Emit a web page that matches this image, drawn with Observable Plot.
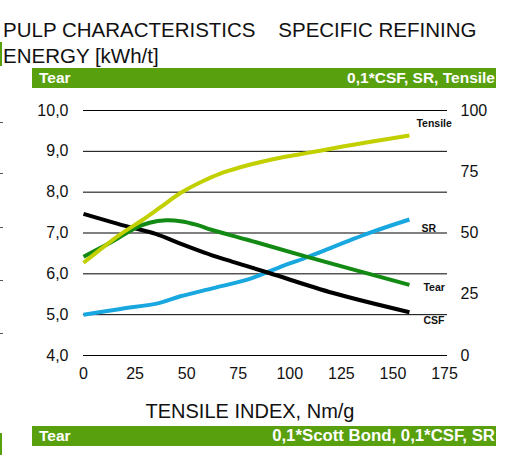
<!DOCTYPE html>
<html>
<head>
<meta charset="utf-8">
<script src="https://cdn.jsdelivr.net/npm/d3@7"></script>
<script src="https://cdn.jsdelivr.net/npm/@observablehq/plot@0.6"></script>
<style>
  html, body { margin: 0; padding: 0; background: #fff; }
  #wrap { position: relative; width: 515px; height: 455px; overflow: hidden; font-family: "Liberation Sans", Arial, sans-serif; }
  .title { position: absolute; left: 3px; top: 17px; font-size: 20.5px; line-height: 26px; color: #111; white-space: nowrap; }
  .bar { position: absolute; left: 32px; width: 464px; height: 20px; background: #58a00e; color: #fff; font-weight: bold; font-size: 15.5px; line-height: 20px; }
  .bar .l { position: absolute; left: 7px; }
  .bar .r { position: absolute; right: 1px; }
  .bar .r.wide { font-size: 16.8px; }
  .xtitle { position: absolute; left: 0; width: 500px; text-align: center; top: 400px; font-size: 20px; color: #111; }
  .edge { position: absolute; left: 0; width: 2px; background: #58a00e; }
  .dash { position: absolute; left: 0; width: 3px; height: 1px; background: #555; }
  #chart { position: absolute; left: 0; top: 95px; }
</style>
</head>
<body>
<div id="wrap">
  <div class="edge" style="top:42px;height:24px"></div>
  <div class="edge" style="top:433px;height:22px"></div>
  <div class="dash" style="top:122px"></div>
  <div class="dash" style="top:173px"></div>
  <div class="dash" style="top:227px"></div>
  <div class="dash" style="top:280px"></div>
  <div class="dash" style="top:333px"></div>
  <div class="title">PULP CHARACTERISTICS&nbsp;&nbsp;&nbsp; SPECIFIC REFINING<br>ENERGY [kWh/t]</div>
  <div class="bar" style="top:68px"><span class="l">Tear</span><span class="r">0,1*CSF, SR, Tensile</span></div>
  <div id="chart"></div>
  <div class="xtitle">TENSILE INDEX, Nm/g</div>
  <div class="bar" style="top:426px"><span class="l">Tear</span><span class="r wide">0,1*Scott Bond, 0,1*CSF, SR</span></div>
</div>
<script>
// Tick values
const xTicks = [0, 25, 50, 75, 100, 125, 150, 175];
const leftTicks = [4, 5, 6, 7, 8, 9, 10];
const rightTicks = [0, 25, 50, 75, 100];

// Series (x = tensile index, y = left-axis value)
const tensileX = [0, 18, 28, 37, 47, 57, 66, 76, 86, 96, 105, 114, 125, 140, 158];
const tensileY = [6.27, 6.97, 7.30, 7.62, 7.98, 8.25, 8.45, 8.61, 8.74, 8.85, 8.93, 9.01, 9.11, 9.24, 9.39];

const tearX = [0, 14, 25, 32, 40, 47, 55, 62, 79, 108, 158];
const tearY = [6.42, 6.79, 7.12, 7.25, 7.31, 7.29, 7.20, 7.08, 6.84, 6.42, 5.73];

const csfX = [0, 22, 35, 46, 62, 72, 90, 121, 158];
const csfY = [7.47, 7.15, 6.98, 6.76, 6.46, 6.30, 6.02, 5.53, 5.06];

const srX = [0, 18, 37, 47, 63, 79, 87, 95, 108, 138, 158];
const srY = [5.00, 5.14, 5.29, 5.45, 5.65, 5.85, 6.00, 6.16, 6.40, 6.99, 7.33];

const toRows = (xs, ys, name) => xs.map((x, i) => ({x, y: ys[i], name}));
const tensile = toRows(tensileX, tensileY, "Tensile");
const tear = toRows(tearX, tearY, "Tear");
const csf = toRows(csfX, csfY, "CSF");
const sr = toRows(srX, srY, "SR");

const fmtLeft = d => d.toFixed(1).replace(".", ",");
const leftToRight = d => Math.round((d - 4) / 6 * 100);
const rightToLeft = v => 4 + v / 100 * 6;

const lineOpts = {x: "x", y: "y", strokeWidth: 4, curve: "catmull-rom", strokeLinecap: "butt"};
const last = arr => [arr[arr.length - 1]];
const lab = {x: "x", y: "y", text: "name", textAnchor: "start", fontWeight: "bold", fontSize: 10.5, fill: "#111"};

const chart = Plot.plot({
  width: 515,
  height: 300,
  marginLeft: 83,
  marginRight: 71,
  marginTop: 15,
  marginBottom: 40,
  style: {fontFamily: "Liberation Sans, Arial, sans-serif", fontSize: "16px", background: "transparent", color: "#111"},
  x: {domain: [0, 175]},
  y: {domain: [4, 10]},
  marks: [
    Plot.gridY(leftTicks, {stroke: "#000", strokeOpacity: 1, strokeWidth: 1, insetRight: -3}),
    Plot.axisY(leftTicks, {anchor: "left", tickSize: 0, tickPadding: 15, tickFormat: fmtLeft, label: null, fontSize: 16}),
    Plot.axisY(rightTicks.map(rightToLeft), {anchor: "right", tickSize: 0, tickPadding: 16, tickFormat: leftToRight, label: null, fontSize: 16}),
    Plot.axisX(xTicks, {anchor: "bottom", tickSize: 0, tickPadding: 12, label: null, fontSize: 16}),
    Plot.line(sr, {...lineOpts, stroke: "#19a7e0"}),
    Plot.line(csf, {...lineOpts, stroke: "#000000"}),
    Plot.line(tear, {...lineOpts, stroke: "#138a13"}),
    Plot.line(tensile, {...lineOpts, stroke: "#c3d000"}),
    Plot.text(last(tensile), {...lab, dx: 7, dy: -12}),
    Plot.text(last(sr), {...lab, dx: 12, dy: 9}),
    Plot.text(last(tear), {...lab, dx: 14, dy: 3}),
    Plot.text(last(csf), {...lab, dx: 14, dy: 8})
  ]
});
document.getElementById("chart").appendChild(chart);
</script>
</body>
</html>
